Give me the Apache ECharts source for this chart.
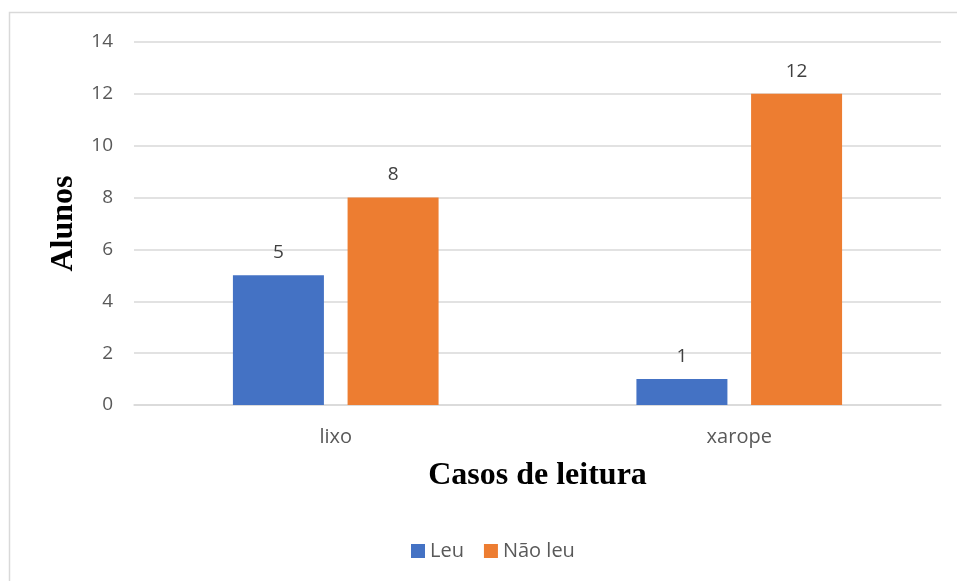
<!DOCTYPE html>
<html>
<head>
<meta charset="utf-8">
<script src="https://cdn.jsdelivr.net/npm/echarts@6/dist/echarts.min.js"></script>
<style>
  html, body { margin: 0; padding: 0; background: #fff; }
  #chart { width: 957px; height: 581px; }
</style>
</head>
<body>
<div id="chart"></div>
<script>
// Reading cases and student counts
const categories = ['lixo', 'xarope'];
const leu = [5, 1];
const naoLeu = [8, 12];
const seriesNames = ['Leu', 'Não leu'];
const yTicks = { min: 0, max: 14, interval: 2 };

const chart = echarts.init(document.getElementById('chart'));

const tickFont = { fontFamily: 'Open Sans', fontSize: 19, color: '#595959' };
const valueLabel = {
  show: true,
  position: 'top',
  distance: 13,
  fontFamily: 'Open Sans',
  fontSize: 19,
  color: '#404040'
};

chart.setOption({
  animation: false,
  backgroundColor: '#ffffff',
  graphic: [{
    type: 'rect',
    shape: { x: 9.5, y: 12.5, width: 980, height: 620 },
    style: { fill: 'none', stroke: '#d9d9d9', lineWidth: 1.5 },
    silent: true,
    z: -1
  }],
  grid: { left: 134, right: 16, top: 42, bottom: 176 },
  legend: {
    data: seriesNames,
    bottom: 15,
    left: 406,
    icon: 'rect',
    itemWidth: 14,
    itemHeight: 14,
    itemGap: 20,
    textStyle: { fontFamily: 'Open Sans', fontSize: 20, color: '#595959' }
  },
  xAxis: {
    type: 'category',
    data: categories,
    name: 'Casos de leitura',
    nameLocation: 'middle',
    nameGap: 55,
    nameTextStyle: { fontFamily: 'Liberation Serif', fontWeight: 'bold', fontSize: 32, color: '#000000' },
    axisLine: { lineStyle: { color: '#d9d9d9', width: 1.5 } },
    axisTick: { show: false },
    axisLabel: Object.assign({}, tickFont, { margin: 22, fontSize: 20 })
  },
  yAxis: {
    type: 'value',
    min: yTicks.min,
    max: yTicks.max,
    interval: yTicks.interval,
    name: 'Alunos',
    nameLocation: 'middle',
    nameRotate: 90,
    nameGap: 54,
    nameTextStyle: { fontFamily: 'Liberation Serif', fontWeight: 'bold', fontSize: 32, color: '#000000' },
    axisLine: { show: false },
    axisTick: { show: false },
    splitLine: { lineStyle: { color: '#d9d9d9', width: 1.5 } },
    axisLabel: Object.assign({ margin: 21 }, tickFont)
  },
  series: [
    {
      name: seriesNames[0],
      type: 'bar',
      data: leu,
      barWidth: 91,
      barGap: '26%',
      itemStyle: { color: '#4472C4' },
      label: valueLabel
    },
    {
      name: seriesNames[1],
      type: 'bar',
      data: naoLeu,
      barWidth: 91,
      barGap: '26%',
      itemStyle: { color: '#ED7D31' },
      label: valueLabel
    }
  ]
});
</script>
</body>
</html>
